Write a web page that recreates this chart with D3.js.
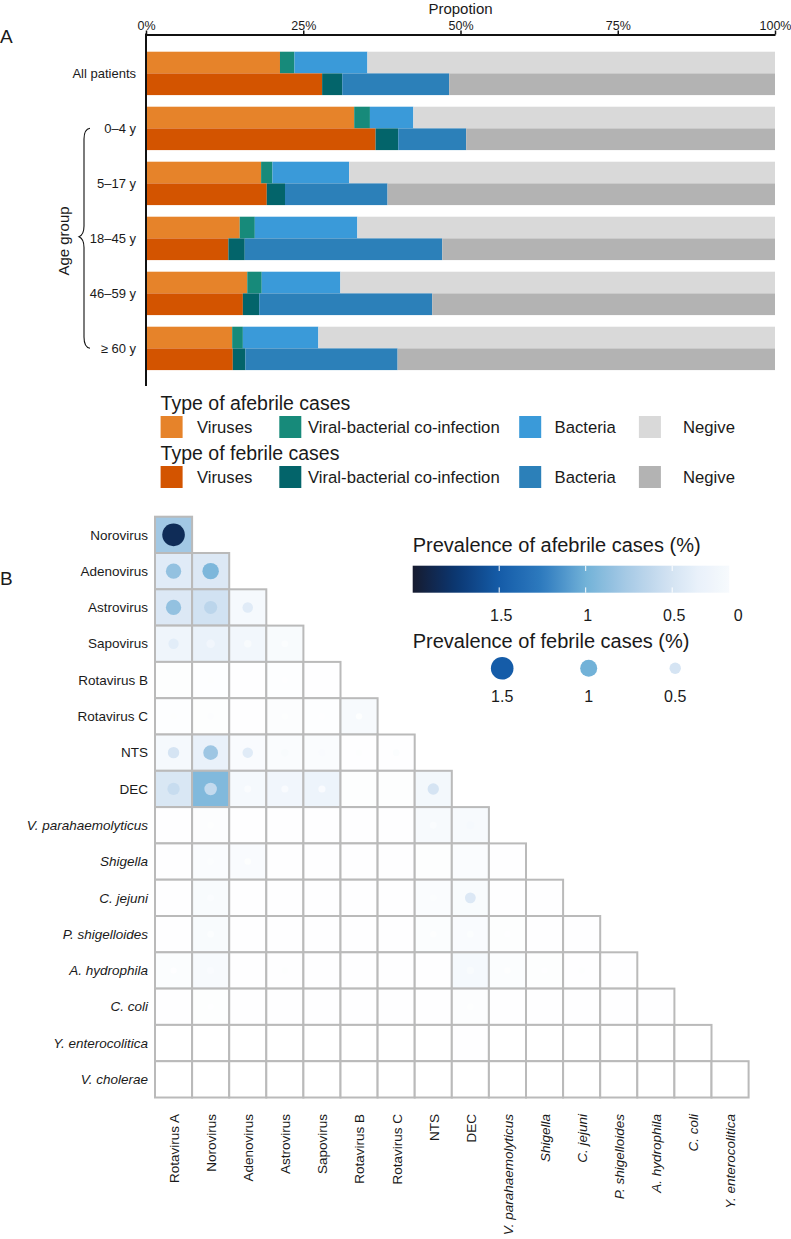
<!DOCTYPE html>
<html><head><meta charset="utf-8">
<script src="https://cdn.jsdelivr.net/npm/d3@7"></script>
<style>
body{margin:0;background:#fff}
svg{display:block}
text{font-family:"Liberation Sans",Arial,Helvetica,sans-serif;fill:#1a1a1a}
</style>
</head><body>
<svg id="c" width="791" height="1239"></svg>
<script>
// ---------------- Panel A data ----------------
const groups = ["All patients","0–4 y","5–17 y","18–45 y","46–59 y","≥ 60 y"];
const caseTypes = ["Viruses","Viral-bacterial co-infection","Bacteria","Negive"];
const afebrileViruses  = [21.3,33.1,18.3,14.9,16.1,13.7];
const afebrileCoinf    = [2.3,2.5,1.8,2.4,2.3,1.7];
const afebrileBacteria = [11.6,6.9,12.2,16.3,12.5,12.0];
const afebrileNegative = [64.8,57.5,67.7,66.4,69.1,72.6];
const febrileViruses   = [28.0,36.5,19.2,13.1,15.4,13.8];
const febrileCoinf     = [3.2,3.6,2.9,2.6,2.6,2.0];
const febrileBacteria  = [17.0,10.8,16.3,31.4,27.5,24.2];
const febrileNegative  = [51.8,49.1,61.6,52.9,54.5,60.0];
const propTicks = [0,25,50,75,100];
const afebrileColors = ["#e6832a","#178a7a","#3a9ad9","#d9d9d9"];
const febrileColors  = ["#d35400","#03646a","#2c80b9","#b3b3b3"];

// ---------------- Panel B data ----------------
const pathogens = ["Rotavirus A","Norovirus","Adenovirus","Astrovirus","Sapovirus","Rotavirus B","Rotavirus C","NTS","DEC",
  "V. parahaemolyticus","Shigella","C. jejuni","P. shigelloides","A. hydrophila","C. coli","Y. enterocolitica","V. cholerae"];
const italicPathogens = ["V. parahaemolyticus","Shigella","C. jejuni","P. shigelloides","A. hydrophila","C. coli","Y. enterocolitica","V. cholerae"];
// lower-triangular: row i = pathogens[i+1], columns = pathogens[0..i]
const afebrilePrev = [
 [0.78],
 [0.42,0.45],
 [0.45,0.52,0.20],
 [0.27,0.34,0.24,0.15],
 [0.05,0.04,0.03,0.04,0.03],
 [0.04,0.05,0.03,0.06,0.04,0.17],
 [0.20,0.35,0.12,0.10,0.10,0.03,0.03],
 [0.47,0.93,0.20,0.25,0.30,0.05,0.05,0.22],
 [0.03,0.06,0.03,0.03,0.03,0.03,0.03,0.17,0.17],
 [0.03,0.10,0.12,0.03,0.03,0.03,0.03,0.05,0.10,0.03],
 [0.03,0.15,0.03,0.03,0.03,0.03,0.03,0.10,0.15,0.03,0.03],
 [0.03,0.15,0.03,0.03,0.03,0.03,0.03,0.08,0.12,0.05,0.03,0.03],
 [0.08,0.17,0.03,0.03,0.03,0.03,0.03,0.03,0.20,0.08,0.05,0.03,0.03],
 [0.03,0.05,0.02,0.02,0.02,0.02,0.02,0.02,0.06,0.02,0.02,0.02,0.02,0.02],
 [0.01,0.01,0.01,0.01,0.01,0.01,0.01,0.01,0.02,0.01,0.01,0.01,0.01,0.01,0.01],
 [0.01,0.01,0.01,0.01,0.01,0.01,0.01,0.01,0.01,0.01,0.01,0.01,0.01,0.01,0.01,0.01]
];
const febrilePrev = [
 [1.85],
 [0.85,0.95],
 [0.85,0.65,0.42],
 [0.40,0.25,0.15,0.08],
 [0.05,0.05,0.03,0.03,0.03],
 [0.05,0.06,0.03,0.05,0.03,0.05],
 [0.50,0.80,0.42,0.15,0.12,0.05,0.08],
 [0.58,0.60,0.10,0.12,0.12,0.05,0.05,0.50],
 [0.03,0.05,0.03,0.03,0.03,0.03,0.03,0.10,0.20],
 [0.03,0.08,0.05,0.03,0.03,0.03,0.03,0.05,0.10,0.03],
 [0.03,0.10,0.03,0.03,0.03,0.03,0.03,0.08,0.45,0.03,0.03],
 [0.03,0.08,0.03,0.03,0.03,0.03,0.03,0.05,0.08,0.03,0.03,0.03],
 [0.03,0.12,0.03,0.05,0.03,0.03,0.03,0.03,0.15,0.05,0.03,0.05,0.03],
 [0.02,0.03,0.02,0.02,0.02,0.02,0.02,0.02,0.05,0.02,0.02,0.02,0.02,0.02],
 [0.01,0.01,0.01,0.01,0.01,0.01,0.01,0.01,0.02,0.01,0.01,0.01,0.01,0.01,0.01],
 [0.01,0.01,0.01,0.01,0.01,0.01,0.01,0.01,0.01,0.01,0.01,0.01,0.01,0.01,0.01,0.01]
];
const colorStops = [0,0.17,0.35,0.5,0.75,1.0,1.25,1.5,1.75,2.0];
const colorRange = ["#ffffff","#f7fafd","#e9f1fa","#d5e4f3","#a9cbe6","#72b2d8","#2e7bbf","#155ca8","#0b3772","#161b2f"];
const legendTicks = [1.5,1,0.5];
const bubbleTicks = [1.5,1,0.5];

// ---------------- drawing ----------------
const svg = d3.select("#c");
const FONT = '"Liberation Sans",Arial,Helvetica,sans-serif';

svg.append("text").attr("x",0).attr("y",43).attr("font-size",19).text("A");
svg.append("text").attr("x",0).attr("y",585).attr("font-size",19).text("B");

const x = d3.scaleLinear().domain([0,100]).range([146,775]);
const yG = d3.scaleBand().domain(groups).range([45.9,375.9]).paddingInner(0.211).paddingOuter(0.1055);
const ySub = d3.scaleBand().domain(["afebrile","febrile"]).range([0,yG.bandwidth()]);

const rows = groups.map((g,i)=>({group:g,
  afebrile:[afebrileViruses[i],afebrileCoinf[i],afebrileBacteria[i],afebrileNegative[i]],
  febrile:[febrileViruses[i],febrileCoinf[i],febrileBacteria[i],febrileNegative[i]]}));

const gA = svg.append("g");
["afebrile","febrile"].forEach(kind=>{
  const tbl = rows.map(r=>{const o={group:r.group}; caseTypes.forEach((t,j)=>o[t]=r[kind][j]); return o;});
  const series = d3.stack().keys(caseTypes)(tbl);
  const cols = kind==="afebrile"?afebrileColors:febrileColors;
  series.forEach((s,si)=>{
    gA.selectAll(null).data(s).enter().append("rect")
      .attr("x",d=>x(d[0]))
      .attr("width",d=>x(d[1])-x(d[0]))
      .attr("y",d=>yG(d.data.group)+ySub(kind))
      .attr("height",ySub.bandwidth())
      .attr("fill",cols[si]);
  });
});

const axT = svg.append("g").attr("transform","translate(0,34.5)")
  .call(d3.axisTop(x).tickValues(propTicks).tickFormat(d=>d+"%").tickSize(4).tickSizeOuter(0).tickPadding(1));
axT.select(".domain").attr("stroke","#111").attr("stroke-width",2);
axT.selectAll(".tick line").attr("stroke","#111").attr("stroke-width",1.5);
axT.selectAll(".tick text").attr("font-size",12.5).attr("font-family",FONT).attr("fill","#1a1a1a");
svg.append("text").attr("x",x(50)).attr("y",14).attr("text-anchor","middle").attr("font-size",15).text("Propotion");
svg.append("line").attr("x1",x(0)).attr("x2",x(0)).attr("y1",33.5).attr("y2",386).attr("stroke","#111").attr("stroke-width",2);

svg.selectAll(null).data(groups).enter().append("text")
  .attr("x",136).attr("y",d=>yG(d)+yG.bandwidth()/2).attr("dy","0.35em")
  .attr("text-anchor","end").attr("font-size",13).text(d=>d);

svg.append("path")
  .attr("d","M90,128.3 C85.5,129 84,132.5 84,139 L84,226 C84,232 82,235.5 79,236.7 C82,238 84,241.5 84,247.5 L84,337 C84,343.5 85.5,347.5 90,348.3")
  .attr("fill","none").attr("stroke","#111").attr("stroke-width",1.1);
svg.append("text").attr("transform","translate(69,241) rotate(-90)").attr("text-anchor","middle")
  .attr("font-size",15).text("Age group");

const legTitles = ["Type of afebrile cases","Type of febrile cases"];
const legY = [410,460];
const swX = [160.6,279.3,519.2,638.9];
const txtX = [197,308,554.5,683];
[afebrileColors,febrileColors].forEach((cols,k)=>{
  svg.append("text").attr("x",160.6).attr("y",legY[k]).attr("font-size",19.5).text(legTitles[k]);
  const g = svg.append("g");
  g.selectAll("rect").data(caseTypes).enter().append("rect")
    .attr("x",(d,i)=>swX[i]).attr("y",legY[k]+6).attr("width",22).attr("height",22)
    .attr("fill",(d,i)=>cols[i]);
  g.selectAll("text").data(caseTypes).enter().append("text")
    .attr("x",(d,i)=>txtX[i]).attr("y",legY[k]+23.3).attr("font-size",16.7).text(d=>d);
});

// ---------------- Panel B ----------------
const colNames = pathogens.slice(0,16);
const rowNames = pathogens.slice(1);
const hx = d3.scaleBand().domain(colNames).range([155,155+16*37.1]);
const hy = d3.scaleBand().domain(rowNames).range([516.7,516.7+16*36.3]);
const color = d3.scaleLinear().domain(colorStops).range(colorRange).clamp(true);
const size = d3.scaleLinear().domain([0,1.5]).range([2.9,11.3]).clamp(true);

const cells = [];
afebrilePrev.forEach((row,i)=>row.forEach((v,j)=>cells.push({r:rowNames[i],c:colNames[j],a:v,f:febrilePrev[i][j]})));
const gB = svg.append("g");
gB.selectAll("rect").data(cells).enter().append("rect")
  .attr("x",d=>hx(d.c)).attr("y",d=>hy(d.r))
  .attr("width",hx.bandwidth()).attr("height",hy.bandwidth())
  .attr("fill",d=>color(d.a)).attr("stroke","#bababa").attr("stroke-width",2);
gB.selectAll("circle").data(cells).enter().append("circle")
  .attr("cx",d=>hx(d.c)+hx.bandwidth()/2).attr("cy",d=>hy(d.r)+hy.bandwidth()/2)
  .attr("r",d=>size(d.f)).attr("fill",d=>color(d.f));

svg.selectAll(null).data(rowNames).enter().append("text")
  .attr("x",148).attr("y",d=>hy(d)+hy.bandwidth()/2).attr("dy","0.35em")
  .attr("text-anchor","end").attr("font-size",13.5)
  .attr("font-style",d=>italicPathogens.includes(d)?"italic":"normal").text(d=>d);
svg.selectAll(null).data(colNames).enter().append("text")
  .attr("transform",d=>`translate(${hx(d)+hx.bandwidth()/2},1114) rotate(-90)`).attr("dy","0.4em")
  .attr("text-anchor","end").attr("font-size",13.5)
  .attr("font-style",d=>italicPathogens.includes(d)?"italic":"normal").text(d=>d);

// color legend
const lx = d3.scaleLinear().domain([2,0]).range([412.7,758.7]);
const barEnd = 0.17;
const defs = svg.append("defs");
const grad = defs.append("linearGradient").attr("id","cbar").attr("x1","0%").attr("x2","100%");
const nStops = 40;
d3.range(nStops+1).forEach(k=>{
  const v = 2 - (2-barEnd)*k/nStops;
  grad.append("stop").attr("offset",(k/nStops*100)+"%").attr("stop-color",color(v));
});
svg.append("text").attr("x",412.7).attr("y",551.7).attr("font-size",20).text("Prevalence of afebrile cases (%)");
svg.append("rect").attr("x",lx(2)).attr("y",565.7).attr("width",lx(barEnd)-lx(2)).attr("height",27).attr("fill","url(#cbar)");
legendTicks.forEach(t=>{
  svg.append("line").attr("x1",lx(t)).attr("x2",lx(t)).attr("y1",565.7).attr("y2",571).attr("stroke","#fff").attr("stroke-width",1);
  svg.append("line").attr("x1",lx(t)).attr("x2",lx(t)).attr("y1",587.4).attr("y2",592.7).attr("stroke","#fff").attr("stroke-width",1);
});
svg.selectAll(null).data(legendTicks.concat([0])).enter().append("text")
  .attr("x",d=>d===0?lx(barEnd)+9:lx(d)+2).attr("y",621).attr("text-anchor","middle").attr("font-size",16)
  .text(d=>String(d));

svg.append("text").attr("x",412.7).attr("y",648.3).attr("font-size",20).text("Prevalence of febrile cases (%)");
svg.selectAll(null).data(bubbleTicks).enter().append("circle")
  .attr("cx",d=>lx(d)+3).attr("cy",668.3).attr("r",d=>size(d)).attr("fill",d=>color(d));
svg.selectAll(null).data(bubbleTicks).enter().append("text")
  .attr("x",d=>lx(d)+3).attr("y",702).attr("text-anchor","middle").attr("font-size",16).text(d=>String(d));
</script>
</body></html>
